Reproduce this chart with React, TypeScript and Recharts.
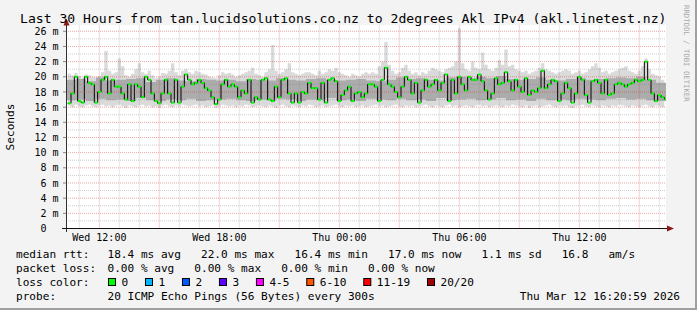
import React from 'react';
import { ComposedChart, Area, Line, XAxis, YAxis, ReferenceLine, CartesianGrid } from 'recharts';

// median RTT (ms), one value every 10 minutes starting 10:25 Wed
const medianRtt = [
  16.5, 17.8, 20, 16.8, 16.6, 20, 19.2, 19, 16.6, 18,
  19.6, 20, 17.8, 19.6, 18.7, 18.7, 17.8, 17, 19, 16.8,
  19, 18.7, 17.3, 20, 19.6, 17.8, 16.8, 16.5, 17.8, 19.6,
  17.8, 16.6, 19.6, 16.6, 18.7, 20.3, 19.6, 19, 19.2, 19.6,
  19.2, 18.5, 18.2, 17.3, 16.4, 17, 19, 19.6, 18.7, 19,
  18.7, 17.3, 18.2, 17.8, 19.6, 16.6, 17.3,
  17, 19.6, 19.8, 17, 16.8, 18.7, 17.3, 19.6, 19.8, 17.8,
  16.6, 17.8, 16.6, 18, 17.8, 19.2, 18.5, 18.5, 17, 19.2,
  16.6, 19.6, 19.8, 19.4, 16.8, 17.6, 18.2, 18.7, 16.8, 17.8,
  18, 17.3, 17.8, 19, 19, 18.7, 16.8, 19.6, 21.2, 19,
  18.7, 18, 17.3, 18.7, 20, 19.6, 17.8, 19.2, 16.6, 18.2,
  19.6, 18.7, 19, 19.6, 18.2, 19.2, 20.3, 16.8,
  19.6, 17.8, 20, 19, 18.2, 20, 19.6, 19.6, 20.3, 19.4,
  18.2, 17, 17.8, 19.8, 19, 19.2, 20.6, 19.4, 18.2, 19.6,
  18.7, 18, 19.8, 17.6, 18.2, 18, 18.5, 20.8, 18.5, 19,
  19.6, 19.4, 16.8, 17.8, 19.2, 18.5, 16.6, 17.8, 20, 19.6,
  17.6, 16.6, 19.4, 19.6, 19.2, 17.8, 19.6, 17.6, 17.8, 19,
  19.2, 19, 18.7, 19, 19.2, 19.6, 19.4, 19.6, 22.0, 19.6,
  17.8, 16.8, 17.6, 17.3, 17.0,
];

// smoke: slowest ping of each interval (ms)
const smokeMax = [
  20.4, 20.2, 20.5, 20.1, 19.8, 20.3, 20.2, 20.0, 19.9, 20.1,
  20.6, 23.4, 20.8, 20.4, 20.6, 22.4, 21.4, 20.2, 20.0, 20.4,
  21.0, 21.8, 20.6, 20.4, 20.8, 20.2, 19.8, 20.0, 20.5, 20.4,
  20.8, 21.8, 20.6, 20.2, 20.8, 21.0, 20.6, 20.4, 20.8, 20.6,
  20.4, 20.3, 20.0, 19.9, 19.8, 20.2, 20.6, 20.4, 20.5, 20.3,
  20.0, 20.2, 20.4, 20.6, 20.8, 21.2, 20.4, 20.2, 20.0, 20.6,
  21.0, 24.2, 20.8, 20.4, 20.6, 21.0, 21.8, 20.6, 20.4, 20.2,
  20.4, 20.6, 20.6, 20.4, 20.2, 20.8, 20.4, 20.6, 21.0, 20.8,
  21.2, 20.6, 20.4, 20.2, 20.0, 20.4, 20.2, 20.0, 20.4, 20.6,
  20.4, 20.6, 20.4, 21.4, 22.0, 24.6, 21.6, 20.8, 20.4, 20.6,
  21.2, 21.6, 20.8, 20.4, 20.6, 20.2, 20.6, 20.4, 20.8, 21.2,
  21.0, 20.8, 20.6, 21.0, 21.2, 21.4, 22.0, 26.4, 21.8, 21.0,
  20.8, 22.0, 21.2, 21.0, 23.2, 21.6, 21.0, 20.8, 21.2, 22.2,
  21.6, 23.6, 21.4, 21.6, 21.0, 20.8, 20.6, 20.8, 20.4, 20.6,
  20.8, 21.2, 21.8, 21.0, 20.8, 20.6, 20.4, 20.6, 20.8, 21.0,
  20.8, 20.4, 20.6, 20.8, 20.4, 20.6, 21.0, 21.4, 21.8, 21.2,
  20.6, 20.8, 20.4, 20.6, 20.8, 21.0, 21.2, 21.4, 20.8, 20.6,
  20.4, 20.8, 21.4, 22.4, 21.0, 20.4, 20.2, 20.0, 19.6, 19.4,
];

// smoke: fastest ping of each interval (ms)
const smokeMin = [
  16.2, 16.0, 16.3, 16.1, 16.0, 16.2, 16.3, 16.1, 16.0, 16.2,
  16.3, 16.1, 16.2, 16.0, 16.2, 16.3, 16.1, 15.9, 16.2, 16.1,
  16.0, 16.2, 16.3, 16.1, 16.2, 16.0, 16.1, 15.9, 16.2, 16.3,
  16.1, 16.0, 16.2, 16.1, 16.3, 16.2, 16.1, 16.2, 16.3, 16.1,
  16.2, 16.0, 16.1, 16.2, 15.9, 16.1, 16.3, 16.2, 16.1, 16.2,
  16.0, 16.2, 16.1, 16.3, 16.2, 16.0, 16.1, 16.2, 16.1, 16.0,
  16.2, 16.1, 15.9, 16.2, 16.3, 16.1, 16.0, 16.2, 16.1, 16.0,
  16.2, 16.1, 16.3, 16.2, 16.0, 16.1, 16.2, 16.0, 16.1, 16.2,
  16.3, 16.1, 16.0, 16.2, 16.1, 16.2, 16.0, 16.1, 16.2, 16.0,
  16.1, 16.2, 16.3, 16.1, 16.2, 16.0, 16.1, 16.2, 16.3, 16.1,
  16.0, 16.2, 16.1, 16.2, 16.0, 16.1, 16.2, 16.3, 16.1, 16.0,
  16.2, 16.1, 16.0, 16.2, 16.3, 16.1, 16.2, 16.0, 16.1, 16.2,
  16.1, 16.0, 16.2, 16.3, 16.1, 16.2, 16.0, 16.1, 16.2, 16.1,
  16.0, 16.2, 16.1, 16.3, 16.2, 16.1, 16.0, 16.2, 15.9, 16.1,
  16.2, 16.0, 16.1, 16.2, 16.3, 16.1, 16.0, 16.2, 16.1, 16.2,
  16.0, 15.9, 16.1, 16.2, 16.3, 16.1, 16.0, 16.2, 16.1, 16.0,
  16.2, 16.1, 16.0, 16.2, 16.1, 16.3, 16.2, 16.1, 16.0, 16.2,
  16.1, 16.0, 16.2, 16.3, 16.1, 16.0, 16.2, 16.1, 16.0, 16.1,
];

// dense smoke band, one value per 30 minutes
const innerLo = [
  16.9, 17.0, 16.8, 17.1, 16.9, 17.0, 16.8, 17.2, 16.9, 16.8,
  17.0, 16.9, 17.1, 16.8, 16.9, 17.0, 17.1, 16.9, 16.8, 17.0,
  16.9, 17.1, 17.0, 16.8, 17.0, 16.9, 17.2, 16.9, 17.0, 16.8,
  17.1, 17.0, 16.9, 17.1, 16.9, 17.0, 16.8, 17.2, 16.9, 17.0,
  17.1, 16.9, 17.0, 17.2, 16.9, 17.0, 16.8, 17.1, 16.9, 17.0,
  16.9, 17.1, 17.0, 16.9, 17.1, 17.2, 17.0, 17.1, 16.9, 16.8,
];
const innerHi = [
  19.6, 19.7, 19.4, 19.9, 19.5, 19.6, 19.7, 19.8, 19.3, 19.6,
  19.8, 19.5, 19.4, 19.7, 19.6, 19.5, 19.6, 19.4, 19.7, 19.6,
  19.5, 19.8, 19.6, 19.5, 19.7, 19.8, 19.6, 19.5, 19.6, 19.7,
  19.5, 19.4, 19.6, 19.9, 19.7, 19.8, 19.6, 19.5, 19.9, 20.0,
  19.8, 20.0, 19.8, 20.1, 19.7, 19.6, 19.7, 19.9, 19.6, 19.5,
  19.7, 19.8, 19.6, 19.7, 19.8, 19.9, 19.8, 20.0, 19.6, 19.2,
];

const yTicks = [0, 2, 4, 6, 8, 10, 12, 14, 16, 18, 20, 22, 24, 26];
const yMinorGrid = [1, 3, 5, 7, 9, 11, 13, 15, 17, 19, 21, 23, 25];
const yMajorGrid = [2, 4, 6, 8, 10, 12, 14, 16, 18, 20, 22, 24, 26];
// x in minutes after Wed 10:20
const xLabelTicks = [100, 460, 820, 1180, 1540];
const xLabels = ['Wed 12:00', 'Wed 18:00', 'Thu 00:00', 'Thu 06:00', 'Thu 12:00'];
const xMajorGrid = [100, 280, 460, 640, 820, 1000, 1180, 1360, 1540, 1720];
const xMinorGrid = [40, 160, 220, 340, 400, 520, 580, 700, 760, 880, 940, 1060, 1120, 1240, 1300, 1420, 1480, 1600, 1660, 1780];

const lossItems = [
  { label: '0', color: '#00ff00' },
  { label: '1', color: '#00b8ff' },
  { label: '2', color: '#0059ff' },
  { label: '3', color: '#5e00ff' },
  { label: '4-5', color: '#ff00ff' },
  { label: '6-10', color: '#ff5500' },
  { label: '11-19', color: '#ff0000' },
  { label: '20/20', color: '#a10000' },
];

const legendRow1 = '18.4 ms avg   22.0 ms max   16.4 ms min   17.0 ms now   1.1 ms sd   16.8   am/s';
const legendRow2 = '0.00 % avg   0.00 % max   0.00 % min   0.00 % now';
const probeText = '20 ICMP Echo Pings (56 Bytes) every 300s';
const stamp = 'Thu Mar 12 16:20:59 2026';
const title = 'Last 30 Hours from tan.lucidsolutions.co.nz to 2degrees Akl IPv4 (akl.linetest.nz)';

const table = medianRtt.map((m, i) => ({ t: 5 + i * 10, median: m, outer: [smokeMin[i], smokeMax[i]] }));
const innerTable = innerLo
  .map((lo, i) => ({ t: i * 30, inner: [lo, innerHi[i]] }))
  .concat([{ t: 1800, inner: [innerLo[innerLo.length - 1], innerHi[innerHi.length - 1]] }]);

const MONO = '"DejaVu Sans Mono", monospace';
const GRID_GRAY = 'rgba(128,128,128,0.38)';
const GRID_RED = 'rgba(215,40,40,0.42)';

const GreenMark = (p: any) => {
  if (p == null || p.cx == null || p.cy == null) return <g key={`gm-${p?.index}`} />;
  return <rect key={`gm-${p.index}`} x={p.cx + 0.3} y={p.cy - 1} width={3} height={2} fill="#00ff00" />;
};

const XTick = (p: any) => {
  const i = xLabelTicks.indexOf(p.payload.value);
  return (
    <text x={p.x} y={241.3} textAnchor="middle" fontFamily={MONO} fontSize={10} fill="#000">
      {i >= 0 ? xLabels[i] : ''}
    </text>
  );
};

export default function App() {
  const cw = 11.1 * 0.602;
  const col2 = 107.5;
  let sx = 108.5;
  const swatches = lossItems.map((it) => {
    const s = { ...it, x: sx, lx: sx + 13 };
    sx = s.lx + it.label.length * cw + 17.3;
    return s;
  });
  const pre: React.CSSProperties = { whiteSpace: 'pre' };
  return (
    <div style={{ position: 'absolute', left: 0, top: 0, width: 697, height: 310, background: '#f3f3f3', overflow: 'hidden' }}>
      <div style={{ position: 'absolute', left: 0, top: 0 }}>
        <ComposedChart width={697} height={310} data={table} margin={{ top: 25.2, right: 31, bottom: 61.5, left: 0 }}>
          <CartesianGrid horizontal={false} vertical={false} fill="#ffffff" fillOpacity={1} />
          <XAxis
            dataKey="t"
            type="number"
            domain={[0, 1800]}
            ticks={xLabelTicks}
            interval={0}
            height={20}
            axisLine={false}
            tickLine={false}
            tickSize={0}
            tick={XTick}
            allowDataOverflow
          />
          <YAxis
            type="number"
            domain={[0, 26.8]}
            ticks={yTicks}
            interval={0}
            width={66}
            axisLine={false}
            tickLine={{ stroke: '#888' }}
            tickSize={3}
            tickMargin={4.5}
            allowDataOverflow
            tick={{ fontFamily: MONO, fontSize: 10, fill: '#000' }}
            tickFormatter={(v: number) => (v === 0 ? '0\u00a0\u00a0' : `${v} m`)}
          />
          <Area
            dataKey="outer"
            type="stepAfter"
            stroke="none"
            fill="#dadada"
            fillOpacity={1}
            isAnimationActive={false}
            dot={false}
            activeDot={false}
          />
          <Area
            data={innerTable}
            dataKey="inner"
            type="stepAfter"
            stroke="none"
            fill="#acacac"
            fillOpacity={1}
            isAnimationActive={false}
            dot={false}
            activeDot={false}
          />
          <Line
            dataKey="median"
            type="stepAfter"
            stroke="#000"
            strokeWidth={1}
            dot={GreenMark}
            activeDot={false}
            isAnimationActive={false}
          />
          {yMinorGrid.map((v) => (
            <ReferenceLine key={`ym${v}`} y={v} stroke={GRID_GRAY} strokeDasharray="1 1" />
          ))}
          {yMajorGrid.map((v) => (
            <ReferenceLine key={`yM${v}`} y={v} stroke={GRID_RED} strokeDasharray="1 1" />
          ))}
          {xMinorGrid.map((v) => (
            <ReferenceLine key={`xm${v}`} x={v} stroke={GRID_GRAY} strokeDasharray="1 1" />
          ))}
          {xMajorGrid.map((v) => (
            <ReferenceLine key={`xM${v}`} x={v} stroke={GRID_RED} strokeDasharray="1 1" />
          ))}
        </ComposedChart>
      </div>
      <svg width={697} height={310} style={{ position: 'absolute', left: 0, top: 0, pointerEvents: 'none' }}>
        {/* frame */}
        <rect x={695} y={0} width={2} height={310} fill="#a0a0a0" />
        <rect x={0} y={308} width={697} height={2} fill="#a0a0a0" />
        {/* axes */}
        <line x1={66.5} y1={21} x2={66.5} y2={232} stroke="#333" strokeWidth={1} />
        <line x1={62} y1={228.5} x2={669} y2={228.5} stroke="#111" strokeWidth={1} />
        <polygon points="66.5,18.5 63.5,25.5 69.5,25.5" fill="#8a1a1a" />
        <polygon points="674,228.5 667,225.5 667,231.5" fill="#8a1a1a" />
        {/* title */}
        <text x={20} y={23} fontFamily={MONO} fontSize={13.1} fill="#000" style={pre}>{title}</text>
        {/* vertical label */}
        <text x={14} y={127} transform="rotate(-90 14 127)" textAnchor="middle" fontFamily={MONO} fontSize={11.1} fill="#000">Seconds</text>
        <text x={683.5} y={5} transform="rotate(90 683.5 5)" fontFamily={MONO} fontSize={7.3} fill="#a8a8a8" style={pre}>RRDTOOL / TOBI OETIKER</text>
        {/* legend */}
        <g fontFamily={MONO} fontSize={11.1} fill="#000">
          <text x={16} y={258} style={pre}>median rtt:</text>
          <text x={col2} y={258} style={pre}>{legendRow1}</text>
          <text x={16} y={272} style={pre}>packet loss:</text>
          <text x={col2} y={272} style={pre}>{legendRow2}</text>
          <text x={16} y={285.5} style={pre}>loss color:</text>
          {swatches.map((s) => (
            <g key={s.label}>
              <rect x={s.x} y={278.5} width={7} height={7} fill={s.color} stroke="#000" strokeWidth={1} />
              <text x={s.lx} y={285.5} style={pre}>{s.label}</text>
            </g>
          ))}
          <text x={16} y={299.5} style={pre}>probe:</text>
          <text x={col2} y={299.5} style={pre}>{probeText}</text>
          <text x={680} y={299.5} textAnchor="end" style={pre}>{stamp}</text>
        </g>
      </svg>
    </div>
  );
}
